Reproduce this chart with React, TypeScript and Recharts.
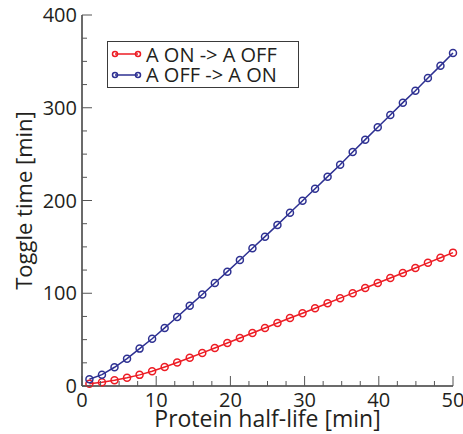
import { Legend, Line, LineChart, XAxis, YAxis } from "recharts";

const RED = "#ed1c24"; // A ON -> A OFF
const BLUE = "#2e3192"; // A OFF -> A ON
const AXIS = "#3a3a3a";
const TICK = "#555555";
const TEXT = "#231f20";
const FONT = "'Open Sans', sans-serif";

// protein half-life [min]
const halfLife = [
  1, 2.69, 4.38, 6.07, 7.76, 9.45, 11.14, 12.83, 14.52, 16.21, 17.9, 19.59, 21.28, 22.97, 24.66,
  26.34, 28.03, 29.72, 31.41, 33.1, 34.79, 36.48, 38.17, 39.86, 41.55, 43.24, 44.93, 46.62, 48.31, 50,
];
// toggle time [min]
const onToOff = [
  2.5, 4.0, 6.2, 8.8, 12.0, 16.0, 20.5, 25.3, 30.4, 35.7, 41.0, 46.4, 51.8, 57.2, 62.6, 68.0, 73.3,
  78.5, 83.8, 89.2, 94.7, 100.1, 105.6, 111.0, 116.5, 121.9, 127.3, 132.8, 138.3, 143.8,
];
const offToOn = [
  7.2, 12.2, 20.2, 29.5, 40.3, 50.9, 62.6, 74.4, 86.6, 98.6, 111.0, 123.3, 135.9, 148.5, 161.0,
  173.7, 186.8, 199.7, 212.7, 225.7, 238.6, 252.3, 265.6, 278.9, 292.2, 305.5, 318.4, 332.1, 345.4,
  359.1,
];

const xTicks = [0, 2.5, 5, 7.5, 10, 12.5, 15, 17.5, 20, 22.5, 25, 27.5, 30, 32.5, 35, 37.5, 40, 42.5, 45, 47.5, 50];
const yTicks = [0, 25, 50, 75, 100, 125, 150, 175, 200, 225, 250, 275, 300, 325, 350, 375, 400];

const series = [
  { key: "onToOff", name: "A ON -> A OFF", color: RED },
  { key: "offToOn", name: "A OFF -> A ON", color: BLUE },
];

const data = halfLife.map((x, i) => ({ x, onToOff: onToOff[i], offToOn: offToOn[i] }));

// ticks point into the plot on every side, labels only on major ones
function tickLen(v: number, major: number) {
  return v % major === 0 ? 10 : 5;
}

function BottomTick(p: any) {
  const v = p.payload.value;
  return (
    <g>
      <line x1={p.x} y1={p.y} x2={p.x} y2={p.y - tickLen(v, 10)} stroke={TICK} strokeWidth={1} />
      {v % 10 === 0 && (
        <text x={p.x} y={p.y + 21} textAnchor="middle" fontSize={20} fill={TEXT} fontFamily={FONT}>
          {v}
        </text>
      )}
    </g>
  );
}

function TopTick(p: any) {
  const v = p.payload.value;
  return <line x1={p.x} y1={p.y} x2={p.x} y2={p.y + tickLen(v, 10)} stroke={TICK} strokeWidth={1} />;
}

function LeftTick(p: any) {
  const v = p.payload.value;
  return (
    <g>
      <line x1={p.x} y1={p.y} x2={p.x + tickLen(v, 100)} y2={p.y} stroke={TICK} strokeWidth={1} />
      {v % 100 === 0 && (
        <text x={p.x - 5} y={p.y + 7} textAnchor="end" fontSize={20} fill={TEXT} fontFamily={FONT}>
          {v}
        </text>
      )}
    </g>
  );
}

function RightTick(p: any) {
  const v = p.payload.value;
  return <line x1={p.x} y1={p.y} x2={p.x - tickLen(v, 100)} y2={p.y} stroke={TICK} strokeWidth={1} />;
}

function XTitle(p: any) {
  const vb = p.viewBox;
  return (
    <text x={vb.x + vb.width / 2} y={vb.y + 41} textAnchor="middle" fontSize={23} fill={TEXT} fontFamily={FONT}>
      Protein half-life [min]
    </text>
  );
}

function YTitle(p: any) {
  const vb = p.viewBox;
  const cx = 32;
  const cy = vb.y + vb.height / 2;
  return (
    <text
      x={cx}
      y={cy}
      transform={`rotate(-90 ${cx} ${cy})`}
      textAnchor="middle"
      fontSize={22}
      fill={TEXT}
      fontFamily={FONT}
    >
      Toggle time [min]
    </text>
  );
}

function LegendBox() {
  return (
    <div
      style={{
        width: 190,
        height: 45,
        border: `1px solid ${AXIS}`,
        background: "#fff",
        fontFamily: FONT,
      }}
    >
      <svg width={190} height={45} style={{ overflow: "visible", display: "block" }}>
        {series.map((s, i) => {
          const y = 12 + i * 21;
          return (
            <g key={s.key}>
              <line x1={7} y1={y} x2={30} y2={y} stroke={s.color} strokeWidth={1.5} />
              <circle cx={7} cy={y} r={2.5} stroke={s.color} strokeWidth={1.5} fill="none" />
              <circle cx={30} cy={y} r={2.5} stroke={s.color} strokeWidth={1.5} fill="none" />
              <text x={38} y={20 + i * 20} fontSize={20} fill={TEXT}>
                {s.name}
              </text>
            </g>
          );
        })}
      </svg>
    </div>
  );
}

export default function App() {
  return (
    <div style={{ position: "absolute", left: 0, top: 0, background: "#fff", fontFamily: FONT }}>
      <LineChart width={463} height={434} data={data} margin={{ top: 15, right: 10, left: 0, bottom: 0 }}>
        <XAxis
          dataKey="x"
          type="number"
          domain={[0, 50]}
          ticks={xTicks}
          interval={0}
          height={48}
          tickSize={0}
          tickMargin={0}
          tickLine={false}
          axisLine={{ stroke: AXIS, strokeWidth: 1.5 }}
          tick={BottomTick}
          label={{ content: XTitle }}
        />
        <XAxis
          xAxisId="top"
          orientation="top"
          dataKey="x"
          type="number"
          domain={[0, 50]}
          ticks={xTicks}
          interval={0}
          height={0}
          tickSize={0}
          tickMargin={0}
          tickLine={false}
          axisLine={{ stroke: AXIS, strokeWidth: 1.5 }}
          tick={TopTick}
        />
        <YAxis
          type="number"
          domain={[0, 400]}
          ticks={yTicks}
          interval={0}
          width={82}
          tickSize={0}
          tickMargin={0}
          tickLine={false}
          axisLine={{ stroke: AXIS, strokeWidth: 1.5 }}
          tick={LeftTick}
          label={{ content: YTitle }}
        />
        <YAxis
          yAxisId="right"
          orientation="right"
          type="number"
          domain={[0, 400]}
          ticks={yTicks}
          interval={0}
          width={0}
          tickSize={0}
          tickMargin={0}
          tickLine={false}
          axisLine={{ stroke: AXIS, strokeWidth: 1.5 }}
          tick={RightTick}
        />
        <Legend
          layout="horizontal"
          verticalAlign="middle"
          align="center"
          wrapperStyle={{ left: 107, top: 41, width: 192, height: 47 }}
          content={() => <LegendBox />}
        />
        {series.map((s) => (
          <Line
            key={s.key}
            dataKey={s.key}
            name={s.name}
            type="linear"
            stroke={s.color}
            strokeWidth={1.5}
            dot={{ r: 3.5, stroke: s.color, strokeWidth: 1.5, fill: "none" }}
            activeDot={false}
            isAnimationActive={false}
          />
        ))}
      </LineChart>
    </div>
  );
}
